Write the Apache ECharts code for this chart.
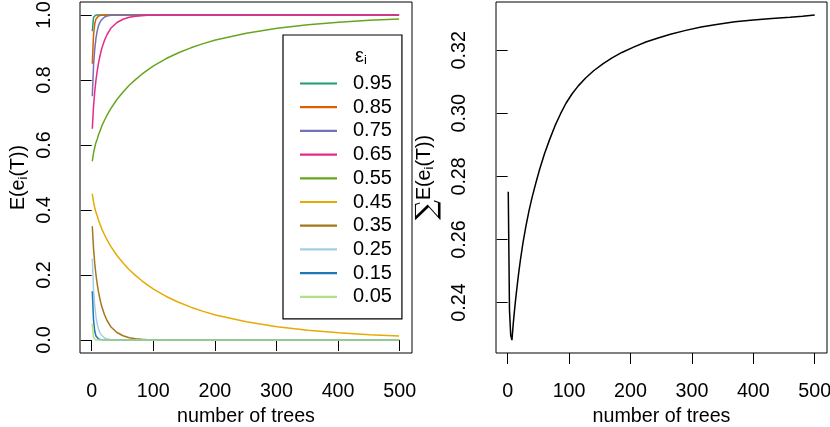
<!DOCTYPE html>
<html><head><meta charset="utf-8">
<script src="https://cdn.jsdelivr.net/npm/echarts@6/dist/echarts.min.js"></script>
<style>html,body{margin:0;padding:0;background:#fff}#c{width:830px;height:427px}</style>
</head><body><div id="c"></div>
<script>
// ---- data ----
const trees = [1,3,5,7,9,11,13,15,17,21,25,31,41,51,61,71,81,91,101,121,141,161,181,201,251,301,351,401,451,499];
const epsLabels = ['0.95','0.85','0.75','0.65','0.55','0.45','0.35','0.25','0.15','0.05'];
const eps095 = [0.95,0.993,0.999,1,1,1,1,1,1,1,1,1,1,1,1,1,1,1,1,1,1,1,1,1,1,1,1,1,1,1];
const eps085 = [0.85,0.939,0.973,0.988,0.994,0.997,0.999,0.999,1,1,1,1,1,1,1,1,1,1,1,1,1,1,1,1,1,1,1,1,1,1];
const eps075 = [0.75,0.844,0.896,0.929,0.951,0.966,0.976,0.983,0.988,0.994,0.997,0.999,1,1,1,1,1,1,1,1,1,1,1,1,1,1,1,1,1,1];
const eps065 = [0.65,0.718,0.765,0.800,0.828,0.851,0.870,0.887,0.901,0.923,0.940,0.959,0.977,0.987,0.993,0.996,0.998,0.999,0.999,1,1,1,1,1,1,1,1,1,1,1];
const eps055 = [0.55,0.575,0.593,0.608,0.618,0.631,0.641,0.651,0.661,0.677,0.692,0.712,0.740,0.763,0.784,0.801,0.817,0.831,0.844,0.866,0.884,0.899,0.912,0.923,0.944,0.959,0.970,0.978,0.984,0.988];
const eps045 = [0.45,0.425,0.407,0.392,0.382,0.369,0.359,0.349,0.339,0.323,0.308,0.288,0.260,0.237,0.216,0.199,0.183,0.169,0.156,0.134,0.116,0.101,0.088,0.077,0.056,0.041,0.030,0.022,0.016,0.012];
const eps035 = [0.35,0.282,0.235,0.200,0.172,0.149,0.130,0.113,0.099,0.077,0.060,0.041,0.023,0.013,0.007,0.004,0.002,0.001,0.001,0,0,0,0,0,0,0,0,0,0,0];
const eps025 = [0.25,0.156,0.104,0.071,0.049,0.034,0.024,0.017,0.012,0.006,0.003,0.001,0,0,0,0,0,0,0,0,0,0,0,0,0,0,0,0,0,0];
const eps015 = [0.15,0.061,0.027,0.012,0.006,0.003,0.001,0.001,0,0,0,0,0,0,0,0,0,0,0,0,0,0,0,0,0,0,0,0,0,0];
const eps005 = [0.05,0.007,0.001,0,0,0,0,0,0,0,0,0,0,0,0,0,0,0,0,0,0,0,0,0,0,0,0,0,0,0];
const sumTrees  = [1,3,5,7,9,11,13,15,18,21,25,30,35,40,46,52,60,68,77,86,95,105,115,127,140,155,170,186,205,225,245,265,290,315,340,370,400,430,460,480,500];
const sumValues = [0.2751,0.2376,0.2296,0.2281,0.2330,0.2372,0.2410,0.2445,0.2494,0.2538,0.2590,0.2645,0.2693,0.2735,0.2780,0.2822,0.2872,0.2915,0.2960,0.2998,0.3032,0.3062,0.3087,0.3112,0.3135,0.3157,0.3176,0.3193,0.3210,0.3226,0.3239,0.3251,0.3263,0.3274,0.3282,0.3290,0.3296,0.3301,0.3305,0.3308,0.3312];
const xTicks = [0,100,200,300,400,500];
const leftYTicks = [0,0.2,0.4,0.6,0.8,1.0];
const rightYTicks = [0.24,0.26,0.28,0.30,0.32];
// ---------------------------------------

const epsSeries = [eps095,eps085,eps075,eps065,eps055,eps045,eps035,eps025,eps015,eps005];
const colors = ['#1B9E77','#D95F02','#7570B3','#E7298A','#66A61E','#E6AB02','#A6761D','#A6CEE3','#1F78B4','#B2DF8A'];
const FONT = '"Liberation Sans", Arial, Helvetica, sans-serif';
const FS = 19.7;

const chart = echarts.init(document.getElementById('c'), null, {renderer: 'canvas'});

function xAxisCfg(gridIndex) {
  return {
    type: 'value', gridIndex, min: -18.96, max: 519.96,
    axisLine: {show: false}, splitLine: {show: false},
    axisTick: {show: true, length: 11, customValues: xTicks, lineStyle: {color: '#000', width: 1}},
    axisLabel: {show: true, customValues: xTicks, margin: 29, color: '#000', fontSize: FS, fontFamily: FONT},
    name: 'number of trees', nameLocation: 'middle', nameGap: 48,
    nameTextStyle: {color: '#000', fontSize: FS, fontFamily: FONT}
  };
}

const subStyle = {fontSize: 13, fontFamily: FONT, color: '#000', padding: [9, 0, 0, 0]};

const option = {
  animation: false,
  textStyle: {fontFamily: FONT},
  grid: [
    {left: 80, top: 2, width: 332, height: 351, show: true, borderColor: '#000', borderWidth: 1, backgroundColor: 'transparent', containLabel: false, outerBoundsMode: 'none'},
    {left: 496, top: 2, width: 331, height: 351, show: true, borderColor: '#000', borderWidth: 1, backgroundColor: 'transparent', containLabel: false, outerBoundsMode: 'none'}
  ],
  xAxis: [xAxisCfg(0), xAxisCfg(1)],
  yAxis: [
    {
      type: 'value', gridIndex: 0, min: -0.04, max: 1.04,
      axisLine: {show: false}, splitLine: {show: false},
      axisTick: {show: true, length: 11, customValues: leftYTicks, lineStyle: {color: '#000'}},
      axisLabel: {show: true, customValues: leftYTicks, rotate: 90, margin: 25, color: '#000', fontSize: FS, fontFamily: FONT,
        formatter: v => v.toFixed(1)},
      name: 'E(e{sub|i}(T))', nameLocation: 'middle', nameGap: 50, nameRotate: 90,
      nameTextStyle: {color: '#000', fontSize: FS, fontFamily: FONT, rich: {sub: subStyle}}
    },
    {
      type: 'value', gridIndex: 1, min: 0.2240, max: 0.3353,
      axisLine: {show: false}, splitLine: {show: false},
      axisTick: {show: true, length: 11, customValues: rightYTicks, lineStyle: {color: '#000'}},
      axisLabel: {show: true, customValues: rightYTicks, rotate: 90, margin: 26, color: '#000', fontSize: FS, fontFamily: FONT,
        formatter: v => v.toFixed(2)},
      name: '{sig|∑}E(e{sub|i}(T))', nameLocation: 'middle', nameGap: 54, nameRotate: 90,
      nameTextStyle: {color: '#000', fontSize: FS, fontFamily: FONT,
        rich: {sub: subStyle, sig: {fontSize: 28, fontFamily: '"DejaVu Serif", serif', color: '#000', padding: [6, 0, 0, 0]}}}
    }
  ],
  legend: {
    show: true, orient: 'vertical', left: 283, top: 35,
    padding: [38.5, 10, 12, 17], itemGap: 3.7, itemWidth: 37, itemHeight: 14,
    borderColor: '#000', borderWidth: 1.2, backgroundColor: '#fff',
    selectedMode: false,
    textStyle: {color: '#000', fontSize: 20, fontFamily: FONT, padding: [0, 0, 0, 11]},
    data: epsLabels.map(n => ({name: n, icon: 'path://M0,0 L1,0 L1,0.06 L0,0.06 Z'}))
  },
  graphic: [{
    type: 'text', left: 355, top: 46, z: 100,
    style: {text: '{a|ε}{b|i}', rich: {
      a: {fontSize: 20, fontFamily: FONT, color: '#000'},
      b: {fontSize: 13, fontFamily: FONT, color: '#000', padding: [9, 0, 0, 0]}
    }}
  }],
  series: [
    ...epsSeries.map((arr, k) => ({
      type: 'line', name: epsLabels[k], xAxisIndex: 0, yAxisIndex: 0,
      data: trees.map((t, i) => [t, arr[i]]),
      showSymbol: false, symbol: 'none', smooth: false,
      lineStyle: {color: colors[k], width: 1.5}, itemStyle: {color: colors[k]}, z: 2 + k
    })),
    {
      type: 'line', name: 'sum', xAxisIndex: 1, yAxisIndex: 1,
      data: sumTrees.map((t, i) => [t, sumValues[i]]),
      showSymbol: false, symbol: 'none', smooth: false,
      lineStyle: {color: '#000', width: 1.5}, itemStyle: {color: '#000'}
    }
  ]
};
chart.setOption(option);
</script></body></html>
